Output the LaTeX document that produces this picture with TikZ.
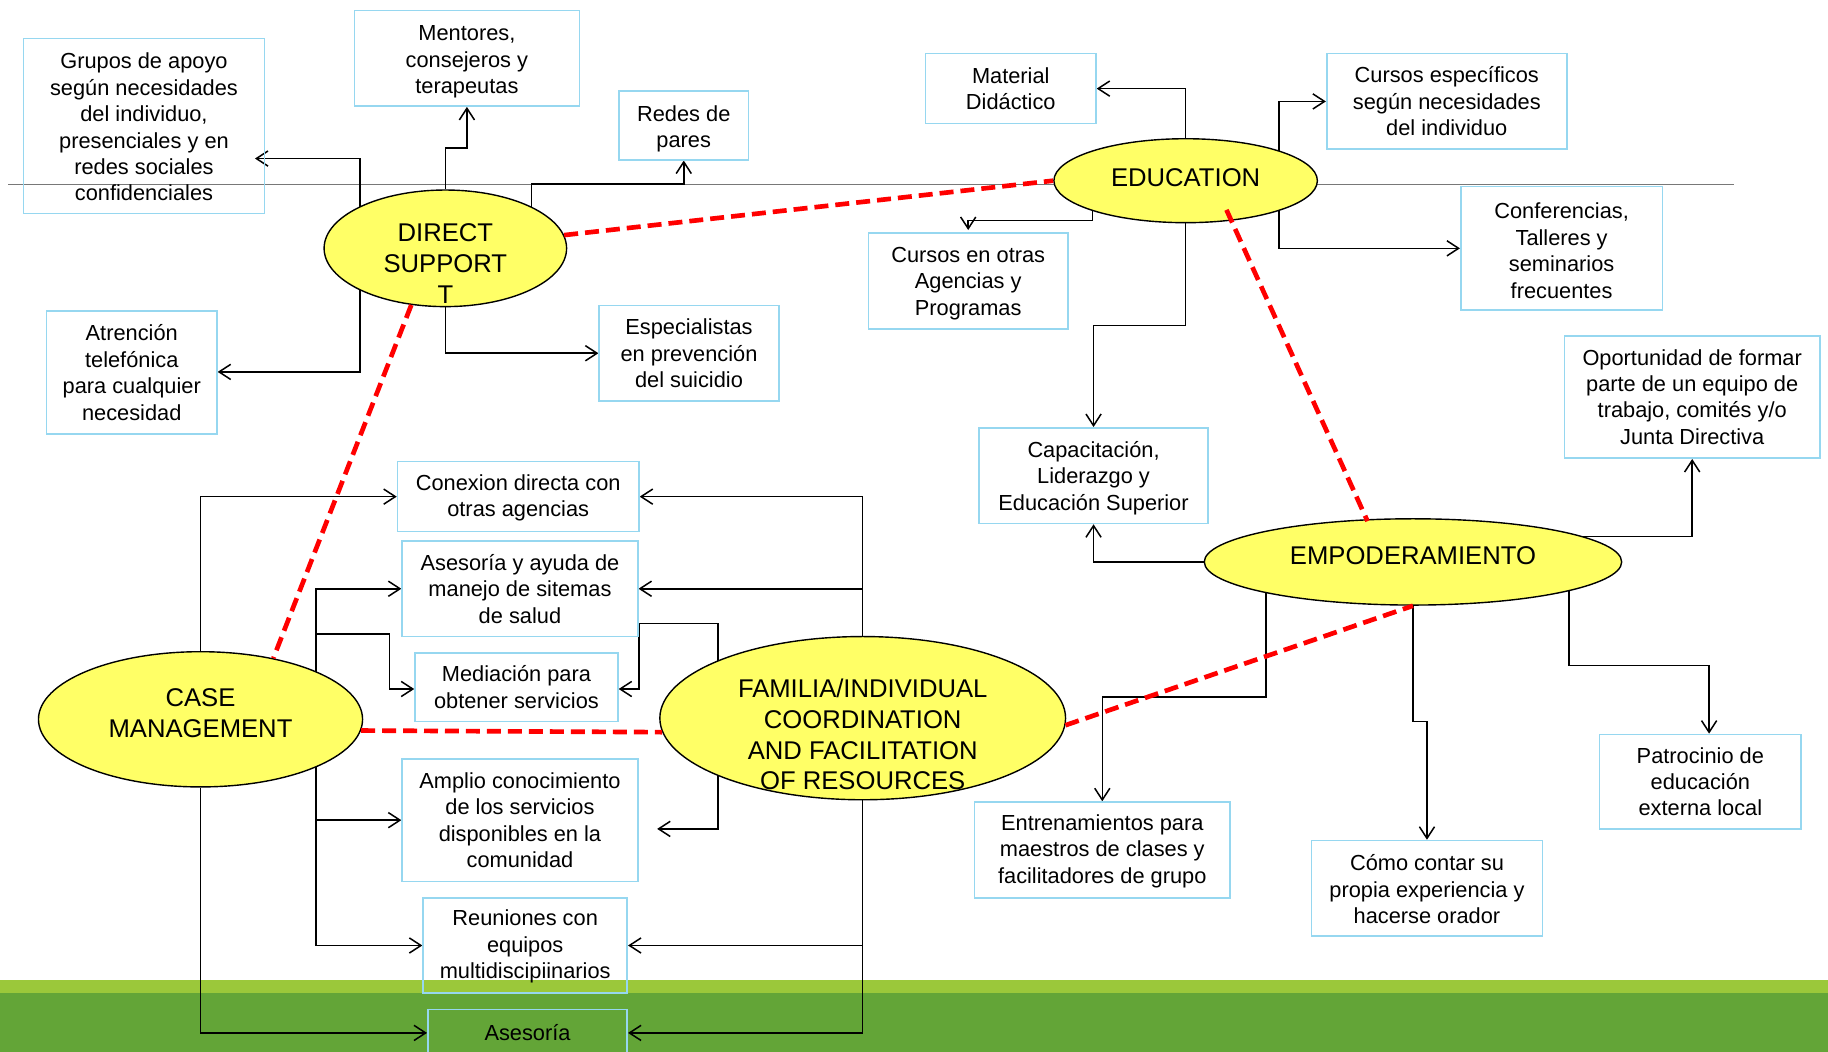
\documentclass[tikz,border=0pt]{standalone}
\usepackage{fontspec}
\setmainfont{Liberation Sans}
\usetikzlibrary{arrows.meta,calc,shapes.geometric}
\pgfdeclarelayer{bg}
\pgfdeclarelayer{lines}
\pgfsetlayers{bg,lines,main}
\definecolor{boxblue}{RGB}{150,215,240}
\definecolor{elly}{RGB}{255,255,102}
\definecolor{lgreen}{RGB}{155,200,58}
\definecolor{dgreen}{RGB}{99,165,55}
\definecolor{dred}{RGB}{255,0,0}
\definecolor{hline}{RGB}{120,120,120}
\newcommand\txtdown[1]{\rule{0pt}{\dimexpr 13.4pt+#1\relax}}
\begin{document}
\begin{tikzpicture}[x=1pt,y=-1pt,
  box/.style={draw=boxblue,line width=1.4pt,inner sep=0pt,align=center,font=\fontsize{18.7}{22.7}\selectfont},
  ell/.style={ellipse,draw=black,fill=elly,line width=1.2pt,inner sep=0pt},
  etext/.style={align=center,font=\fontsize{22}{26.5}\selectfont,inner sep=0pt},
  conn/.style={line width=1.3pt,-{Straight Barb[length=10pt,width=13pt]}},
  reddash/.style={draw=dred,line width=4pt,dash pattern=on 12pt off 6pt},
]
\useasboundingbox (0,0) rectangle (1568,902);

% background
\begin{pgfonlayer}{bg}
\fill[lgreen] (0,841) rectangle (1568,852);
\fill[dgreen] (0,851.5) rectangle (1568,902);
\draw[hline,line width=1pt] (7,158) -- (1487,158);
\end{pgfonlayer}

% ellipses
\node[ell,minimum width=208pt,minimum height=100pt] (ds) at (382,213) {};
\node[etext] at (382,226) {DIRECT\\SUPPORT\\T};
\node[ell,minimum width=226pt,minimum height=72pt] (ed) at (1017,155) {};
\node[etext] at (1017,152) {EDUCATION};
\node[ell,minimum width=278pt,minimum height=116pt] (cm) at (172,617) {};
\node[etext] at (172,611.5) {CASE\\MANAGEMENT};
\node[ell,minimum width=348pt,minimum height=140pt] (fa) at (740,616) {};
\node[etext] at (740,630) {FAMILIA/INDIVIDUAL\\COORDINATION\\AND FACILITATION\\OF RESOURCES};
\node[ell,minimum width=358pt,minimum height=74pt] (em) at (1212,482) {};
\node[etext] at (1212,477) {EMPODERAMIENTO};

% boxes
\node[box,minimum width=207pt,minimum height=150pt] (grupos) at (123.5,108) {\txtdown{2pt}Grupos de apoyo\\según necesidades\\del individuo,\\presenciales y en\\redes sociales\\confidenciales};
\node[box,minimum width=193pt,minimum height=82pt] (mentores) at (400.5,50) {\txtdown{6pt}Mentores,\\consejeros y\\terapeutas};
\node[box,minimum width=111pt,minimum height=59pt] (redes) at (586.5,107.5) {\txtdown{6pt}Redes de\\pares};
\node[box,minimum width=146pt,minimum height=105pt] (atrencion) at (113,319.5) {Atrención\\telefónica\\para cualquier\\necesidad};
\node[box,minimum width=154pt,minimum height=82pt] (especialistas) at (591,303) {Especialistas\\en prevención\\del suicidio};
\node[box,minimum width=146pt,minimum height=60pt] (material) at (867,76) {Material\\Didáctico};
\node[box,minimum width=206pt,minimum height=82pt] (cursosesp) at (1241,87) {Cursos específicos\\según necesidades\\del individuo};
\node[box,minimum width=171pt,minimum height=82pt] (cursosotras) at (830.5,241) {\txtdown{4pt}Cursos en otras\\Agencias y\\Programas};
\node[box,minimum width=173pt,minimum height=106pt] (conferencias) at (1339.5,213) {\txtdown{4pt}Conferencias,\\Talleres y\\seminarios\\frecuentes};
\node[box,minimum width=219pt,minimum height=105pt] (oportunidad) at (1451.5,340.5) {Oportunidad de formar\\parte de un equipo de\\trabajo, comités y/o\\Junta Directiva};
\node[box,minimum width=196pt,minimum height=82pt] (capacitacion) at (938,408) {\txtdown{4pt}Capacitación,\\Liderazgo y\\Educación Superior};
\node[box,minimum width=207pt,minimum height=60pt] (conexion) at (444.5,426) {\txtdown{2pt}Conexion directa con\\otras agencias};
\node[box,minimum width=202pt,minimum height=82pt] (asesoriaayuda) at (446,505) {Asesoría y ayuda de\\manejo de sitemas\\de salud};
\node[box,minimum width=174pt,minimum height=59pt] (mediacion) at (443,589.5) {Mediación para\\obtener servicios};
\node[box,minimum width=202pt,minimum height=105pt] (amplio) at (446,703.5) {Amplio conocimiento\\de los servicios\\disponibles en la\\comunidad};
\node[box,minimum width=175pt,minimum height=82pt] (reuniones) at (450.5,811) {\txtdown{2pt}Reuniones con\\equipos\\multidiscipiinarios};
\node[box,minimum width=171pt,minimum height=40pt] (asesoria) at (452.5,886) {Asesoría};
\node[box,minimum width=219pt,minimum height=82pt] (entrenamientos) at (945.5,729) {\txtdown{2pt}Entrenamientos para\\maestros de clases y\\facilitadores de grupo};
\node[box,minimum width=198pt,minimum height=82pt] (como) at (1224,762) {\txtdown{2pt}Cómo contar su\\propia experiencia y\\hacerse orador};
\node[box,minimum width=173pt,minimum height=81pt] (patrocinio) at (1458.5,670.5) {Patrocinio de\\educación\\externa local};

% connectors
\begin{pgfonlayer}{lines}
% direct support
\draw[conn,shorten >=-9pt] ($(ds)+(-73,0)$) -- (309,136) -- (grupos.east |- 0,136);
\draw[conn] ($(ds)+(-73,0)$) -- (309,319) -- (atrencion.east |- 0,319);
\draw[conn] (ds.north) -- (382,127) -- (400.5,127) -- (mentores.south);
\draw[conn] ($(ds)+(74,0)$) -- (456,158) -- (586.5,158) -- (redes.south);
\draw[conn] (ds.south) -- (382,303) -- (especialistas.west);
% education
\draw[conn] (ed.north) -- (1017,76) -- (material.east);
\draw[conn] ($(ed)+(80,0)$) -- (1097,87) -- (cursosesp.west);
\draw[conn] ($(ed)+(80,0)$) -- (1097,213) -- (conferencias.west);
\draw[conn,shorten >=2pt] ($(ed)+(-80,0)$) -- (937,189) -- (830.5,189) -- (cursosotras.north);
\draw[conn] (ed.south) -- (1017,279) -- (938,279) -- (capacitacion.north);
% empoderamiento
\draw[conn] (em.west) -- (938,482) -- (capacitacion.south);
\draw[conn] ($(em)+(100,-22)$) -- (1451.5,460) -- (oportunidad.south);
\draw[conn] ($(em)+(-126,0)$) -- (1086,598) -- (945.5,598) -- (entrenamientos.north);
\draw[conn] (em.south) -- (1212,619) -- (1224,619) -- (como.north);
\draw[conn] ($(em)+(134,0)$) -- (1346,571) -- (1466,571) -- (patrocinio.north -| 1466,0);
% case management
\draw[conn] (cm.north) -- (172,426) -- (conexion.west);
\draw[conn] (cm.south) -- (172,886) -- (asesoria.west);
\draw[conn] ($(cm)+(99,0)$) -- (271,505) -- (asesoriaayuda.west);
\draw[conn] ($(cm)+(99,0)$) -- (271,544) -- (334,544) -- (334,591) -- (mediacion.west |- 0,591);
\draw[conn] ($(cm)+(99,0)$) -- (271,703.5) -- (amplio.west);
\draw[conn] ($(cm)+(99,0)$) -- (271,811) -- (reuniones.west);
% familia
\draw[conn] (fa.north) -- (740,426) -- (conexion.east);
\draw[conn] (fa.north) -- (740,505) -- (asesoriaayuda.east);
\draw[conn] (fa.south) -- (740,811) -- (reuniones.east);
\draw[conn] (fa.south) -- (740,886) -- (asesoria.east);
\draw[conn] ($(fa)+(-124,0)$) -- (616,535) -- (548,535) -- (548,591) -- (mediacion.east |- 0,591);
\draw[conn,shorten >=16pt] ($(fa)+(-124,0)$) -- (616,711) -- (amplio.east |- 0,711);
\end{pgfonlayer}

% red dashed relations
\draw[reddash] (ds) -- (ed.west);
\draw[reddash] (ds.239) -- (cm.40);
\draw[reddash] (cm.-4) -- (fa.184);
\draw[reddash] ($(ed)+(35,25)$) -- ($(em)+(-39,-35)$);
\draw[reddash] (fa.-2) -- (em.south);
\end{tikzpicture}
\end{document}
